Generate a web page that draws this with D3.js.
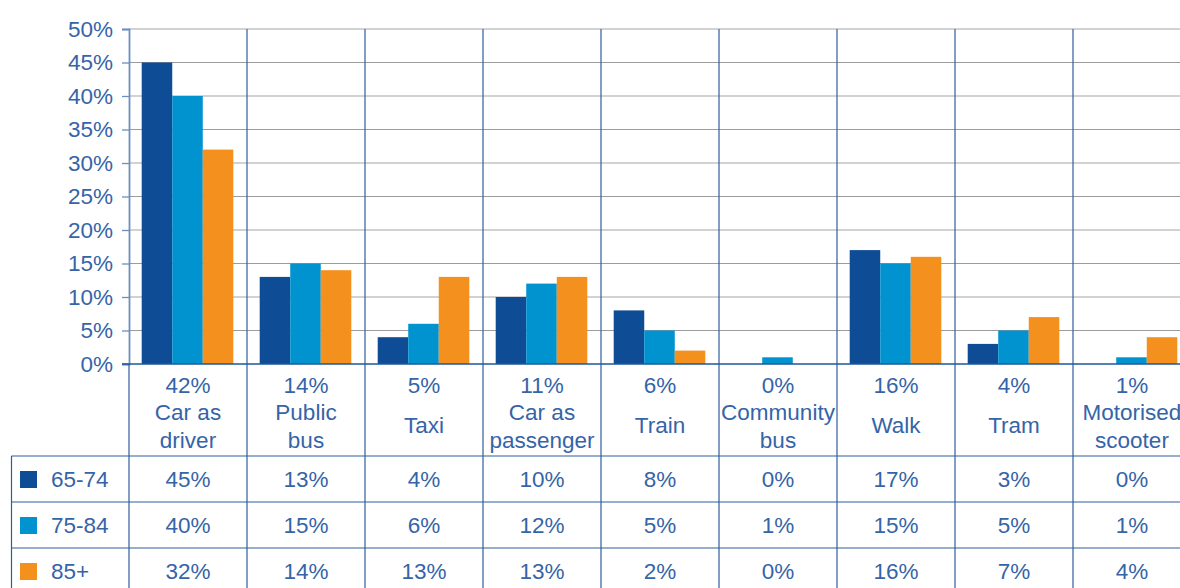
<!DOCTYPE html>
<html><head><meta charset="utf-8">
<script src="https://cdn.jsdelivr.net/npm/d3@7/dist/d3.min.js"></script>
<style>
html,body{margin:0;padding:0;background:#fff;overflow:hidden}
svg text{font-family:"Liberation Sans",Arial,Helvetica,sans-serif;fill:#3564a8}
</style></head>
<body>
<svg id="c" width="1180" height="588"></svg>
<script>
const categories = ["Car as driver","Public bus","Taxi","Car as passenger","Train","Community bus","Walk","Tram","Motorised scooter"];
const categoryLines = [["Car as","driver"],["Public","bus"],["Taxi"],["Car as","passenger"],["Train"],["Community","bus"],["Walk"],["Tram"],["Motorised","scooter"]];
const totals = [42,14,5,11,6,0,16,4,1];
const seriesNames = ["65-74","75-84","85+"];
const s6574 = [45,13,4,10,8,0,17,3,0];
const s7584 = [40,15,6,12,5,1,15,5,1];
const s85 = [32,14,13,13,2,0,16,7,4];
const yTicks = [0,5,10,15,20,25,30,35,40,45,50];
const colors = ["#0f4c96","#0093cf","#f4901e"];

const FS = 22.5;
const series = [s6574, s7584, s85];
const svg = d3.select("#c");
const x0 = 129, colW = 118;
const x = d3.scaleBand().domain(categories).range([x0, x0 + colW*categories.length]).padding(0);
const x1 = d3.scaleBand().domain(seriesNames).range([12.7, 104.3]).padding(0);
const y = d3.scaleLinear().domain([0,50]).range([364,29]);

// gridlines
svg.append("g").selectAll("line").data(yTicks.filter(d=>d>0)).join("line")
  .attr("x1", x0).attr("x2", 1180)
  .attr("y1", d=>y(d)).attr("y2", d=>y(d))
  .attr("stroke", d=> d%10===0 ? "#d2d2d2" : "#9c9c9c")
  .attr("stroke-width", d=> d%10===0 ? 2 : 1.2);

// bars
const g = svg.append("g");
categories.forEach((c,i)=>{
  series.forEach((s,j)=>{
    if (s[i] > 0) {
      g.append("rect")
        .attr("x", x(c) + x1(seriesNames[j]))
        .attr("width", x1.bandwidth())
        .attr("y", y(s[i]))
        .attr("height", y(0) - y(s[i]))
        .attr("fill", colors[j]);
    }
  });
});

// vertical dividers
svg.append("g").selectAll("line").data(categories.slice(1)).join("line")
  .attr("x1", d=>x(d)).attr("x2", d=>x(d))
  .attr("y1", y(50)).attr("y2", 588)
  .attr("stroke", "#3f6aa6").attr("stroke-width", 1.3);

// y axis
const yAxis = d3.axisLeft(y).tickValues(yTicks).tickFormat(d=>d+"%").tickSize(7).tickPadding(9);
const ya = svg.append("g").attr("transform", `translate(${x0},0)`).call(yAxis);
ya.select(".domain").attr("stroke", "#6d8fbf").attr("stroke-width", 1.8);
ya.selectAll(".tick line").attr("stroke", "#6d8fbf").attr("stroke-width", 1.3);
ya.selectAll(".tick text").attr("font-size", FS).attr("fill","#3564a8").style("font-family","'Liberation Sans',Arial,sans-serif");
svg.append("line").attr("x1", x0).attr("x2", x0).attr("y1", y(0)).attr("y2", 588)
  .attr("stroke", "#3f6aa6").attr("stroke-width", 1.3);

// zero line
svg.append("line").attr("x1", 122).attr("x2", 1180).attr("y1", y(0)).attr("y2", y(0))
  .attr("stroke", "#1f5799").attr("stroke-width", 1.6);

// category labels
const lab = svg.append("g");
categories.forEach((c,i)=>{
  const cx = x(c) + x.bandwidth()/2;
  lab.append("text").attr("x", cx).attr("y", 392.5).attr("text-anchor","middle").attr("font-size",FS).text(totals[i]+"%");
  const lines = categoryLines[i];
  if (lines.length === 2) {
    lab.append("text").attr("x", cx).attr("y", 419.5).attr("text-anchor","middle").attr("font-size",FS).text(lines[0]);
    lab.append("text").attr("x", cx).attr("y", 447.5).attr("text-anchor","middle").attr("font-size",FS).text(lines[1]);
  } else {
    lab.append("text").attr("x", cx).attr("y", 433).attr("text-anchor","middle").attr("font-size",FS).text(lines[0]);
  }
});

// table
const rowTop = 456, rowH = 46;
const tb = svg.append("g");
seriesNames.forEach((n,j)=>{
  tb.append("line").attr("x1", 11.5).attr("x2", 1180).attr("y1", rowTop + j*rowH).attr("y2", rowTop + j*rowH)
    .attr("stroke", "#2f5d9a").attr("stroke-width", 1.2);
});
tb.append("line").attr("x1", 11.5).attr("x2", 11.5).attr("y1", rowTop).attr("y2", 588)
  .attr("stroke", "#2f5d9a").attr("stroke-width", 1.2);
seriesNames.forEach((n,j)=>{
  const base = rowTop + j*rowH + 31;
  tb.append("rect").attr("x", 20).attr("y", rowTop + j*rowH + 15).attr("width", 17).attr("height", 17).attr("fill", colors[j]);
  tb.append("text").attr("x", 51).attr("y", base).attr("font-size", FS).text(n);
  categories.forEach((c,i)=>{
    tb.append("text").attr("x", x(c) + x.bandwidth()/2).attr("y", base).attr("text-anchor","middle").attr("font-size",FS).text(series[j][i]+"%");
  });
});
</script>
</body></html>
